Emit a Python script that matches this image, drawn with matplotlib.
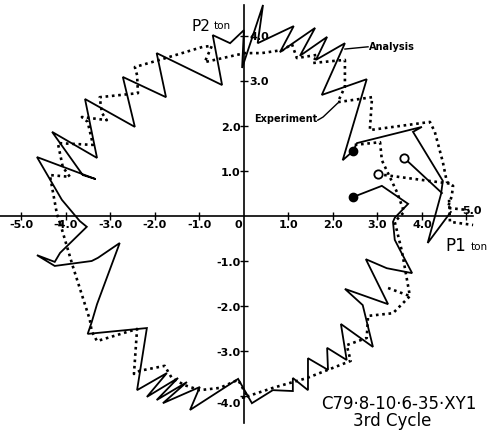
import matplotlib
matplotlib.use("Agg")
import matplotlib.pyplot as plt
from matplotlib import font_manager

# ---------------- data (P1, P2 in ton) ----------------
# Analysis (solid) - path starting at upper filled dot
ana1_p1 = [2.45, 2.54, 4.00, 3.80, 4.47, 4.43, 4.13, 4.65]
ana1_p2 = [1.44, 1.62, 1.98, 1.87, 0.78, 0.49, -0.60, 0.09]

# Analysis (solid) - short branch from upper open circle
ana3_p1 = [3.60, 4.45]
ana3_p2 = [1.29, 0.51]

# Analysis (solid) - main loop starting at lower filled dot
ana2_p1 = [2.45, 3.10, 3.69, 3.39, 3.35, 3.39, 3.51, 3.78, 3.21, 2.74, 3.24, 2.27,
           2.67, 2.90, 2.18, 2.31, 1.87, 1.89, 1.44, 1.44, 1.10, 1.10, 0.65, 0.18,
           -0.13, -1.21, -0.99, -1.82, -1.28, -1.96, -1.48, -2.18, -1.73, -2.40,
           -2.18, -3.51, -3.42, -3.30, -2.79, -3.28, -3.42, -4.25, -4.65, -4.25,
           -4.13, -3.53, -3.69, -4.09, -4.65, -3.33, -3.62, -4.31, -3.30, -3.57,
           -2.45, -2.72, -1.75, -1.96, -0.49, -0.70, -0.31, 0.00, -0.04, 0.43,
           0.31, 1.12, 0.81, 1.60, 1.26, 1.87, 1.62, 2.27, 1.75, 2.76, 2.22, 2.45]
ana2_p2 = [0.42, 0.67, 0.27, -0.04, -0.13, -0.53, -0.76, -1.27, -1.16, -0.96, -1.96, -1.62,
           -1.98, -2.91, -2.40, -3.20, -2.93, -3.42, -3.16, -3.87, -3.60, -3.89, -3.87, -4.16,
           -3.62, -4.31, -3.80, -4.16, -3.69, -4.09, -3.60, -4.02, -3.49, -3.87,
           -2.49, -2.62, -2.36, -1.96, -0.60, -0.93, -1.00, -1.11, -0.87, -1.02,
           -0.82, -0.24, -0.11, 0.36, 1.31, 0.82, 0.91, 1.87, 1.29, 2.60,
           1.98, 3.09, 2.64, 3.62, 2.91, 4.02, 3.84, 4.13, 3.29, 4.69,
           3.84, 4.22, 3.64, 4.18, 3.56, 3.98, 3.47, 3.84, 2.69, 3.04, 1.24, 1.44]

# Experiment (dotted) - upper part
exp1_p1 = [-4.13, -4.20, -4.36, -3.91, -4.07, -4.18, -3.39, -3.51, -3.64, -3.08, -3.19,
           -3.24, -2.38, -2.40, -2.45, -1.89, -0.92, -0.72, -0.88, 0.02, 0.40, 0.88,
           1.08, 1.19, 1.64, 1.55, 2.27, 2.27, 2.11, 2.88, 2.83, 4.18, 4.29, 4.47,
           4.56, 4.70, 4.67, 4.58, 5.06]
exp1_p2 = [-0.16, 0.04, 0.91, 0.87, 1.09, 1.62, 1.58, 2.09, 2.20, 2.13, 2.29,
           2.64, 2.73, 3.13, 3.31, 3.47, 3.76, 3.78, 3.42, 3.62, 3.62, 3.69,
           3.82, 3.51, 3.58, 3.40, 3.47, 2.87, 2.53, 2.64, 1.91, 2.09, 1.87, 1.20,
           0.76, 0.67, 0.44, 0.18, 0.13]

# Experiment (dotted) - lower part
exp2_p1 = [2.49, 3.06, 3.10, 3.44, 3.60, 3.39, 3.55, 3.73, 3.35, 2.79, 2.76, 2.31,
           2.40, 1.42, 0.65, -0.02, 0.07, -0.13, -0.54, -0.99, -1.33, -1.62, -1.78,
           -2.34, -2.47, -2.40, -3.30, -3.42, -3.46, -3.84, -4.13]
exp2_p2 = [1.58, 1.64, 1.24, 0.53, 0.09, -0.13, -0.78, -1.78, -2.16, -2.22, -2.71, -2.87,
           -3.22, -3.60, -3.82, -4.04, -4.00, -3.64, -3.82, -3.87, -3.76, -3.60, -3.33,
           -3.44, -3.51, -2.51, -2.78, -2.56, -2.31, -1.13, -0.16]

# Experiment (dotted) - short pieces
exp3_p1 = [3.01, 4.70]
exp3_p2 = [0.93, 0.71]
exp4_p1 = [3.24, 3.73]
exp4_p2 = [-1.60, -1.78]
exp5_p1 = [4.61, 4.63, 5.15]
exp5_p2 = [0.36, -0.13, -0.20]

# start markers
filled_p1 = [2.45, 2.45]
filled_p2 = [1.44, 0.42]
open_p1 = [3.60, 3.01]
open_p2 = [1.29, 0.93]

# ticks
x_ticks = [-5, -4, -3, -2, -1, 1, 2, 3, 4, 5]
x_labels = ["-5.0", "-4.0", "-3.0", "-2.0", "-1.0", "1.0", "2.0", "3.0", "4.0", "5.0"]
y_ticks = [-4, -3, -2, -1, 1, 2, 3, 4]
y_labels = ["-4.0", "-3.0", "-2.0", "-1.0", "1.0", "2.0", "3.0", "4.0"]

# ---------------- plot ----------------
def has_font(name):
    return any(f.name == name for f in font_manager.fontManager.ttflist)

narrow = "Liberation Sans Narrow" if has_font("Liberation Sans Narrow") else "DejaVu Sans"

fig = plt.figure(figsize=(4.9, 4.32), dpi=100)
ax = fig.add_axes([0, 0, 1, 1])
ax.set_xlim(-5.48, 5.53)
ax.set_ylim(-4.80, 4.80)

for s in ["top", "right"]:
    ax.spines[s].set_visible(False)
ax.spines["left"].set_position(("data", 0))
ax.spines["bottom"].set_position(("data", 0))
ax.spines["left"].set_bounds(-4.6, 4.7)
ax.spines["bottom"].set_bounds(-5.48, 5.15)
for s in ["left", "bottom"]:
    ax.spines[s].set_linewidth(1.2)
ax.set_xticks(x_ticks)
ax.set_yticks(y_ticks)
ax.tick_params(direction="inout", length=6, width=1.0, labelbottom=False, labelleft=False)

sol = dict(color="black", lw=1.3, solid_joinstyle="miter")
dot = dict(color="black", lw=1.9, linestyle=(0, (1, 1.4)))

ax.plot(ana2_p1, ana2_p2, **sol)
ax.plot(ana1_p1, ana1_p2, **sol)
ax.plot(ana3_p1, ana3_p2, **sol)

ax.plot(exp1_p1, exp1_p2, **dot)
ax.plot(exp2_p1, exp2_p2, **dot)
ax.plot(exp3_p1, exp3_p2, **dot)
ax.plot(exp4_p1, exp4_p2, **dot)
ax.plot(exp5_p1, exp5_p2, **dot)

ax.plot(filled_p1, filled_p2, "o", color="black", ms=6, zorder=5)
ax.plot(open_p1, open_p2, "o", mfc="white", mec="black", mew=1.3, ms=6, zorder=5)

# tick labels
tfont = dict(fontsize=8, fontweight="bold", family=narrow)
for v, lab in zip(x_ticks, x_labels):
    if v == 5:
        ax.text(v + 0.12, 0.1, lab, ha="center", va="center", **tfont)
    else:
        ax.text(v, -0.21, lab, ha="center", va="center", **tfont)
ax.text(-0.13, -0.21, "0", ha="center", va="center", **tfont)
for v, lab in zip(y_ticks, y_labels):
    if v >= 3:
        ax.text(0.12, v - 0.02, lab, ha="left", va="center", **tfont)
    elif v == -4:
        ax.text(-0.07, v - 0.18, lab, ha="right", va="center", **tfont)
    else:
        ax.text(-0.07, v - 0.05, lab, ha="right", va="center", **tfont)

# axis titles
ax.text(-1.17, 4.21, "P2", fontsize=11, ha="left", va="center")
ax.text(-0.68, 4.22, "ton", fontsize=7.5, ha="left", va="center")
ax.text(4.52, -0.67, "P1", fontsize=12, ha="left", va="center")
ax.text(5.10, -0.70, "ton", fontsize=7.5, ha="left", va="center")

# annotations
ax.plot([2.27, 2.79], [3.71, 3.76], color="black", lw=1.0)
ax.text(2.80, 3.76, "Analysis", fontsize=7, fontweight="bold", ha="left", va="center", family=narrow)
ax.plot([1.66, 1.78, 2.11], [2.13, 2.20, 2.51], color="black", lw=1.0)
ax.text(1.64, 2.15, "Experiment", fontsize=7, fontweight="bold", ha="right", va="center", family=narrow)

ax.text(3.49, -4.17, "C79·8-10·6-35·XY1", fontsize=12, ha="center", va="center", family=narrow)
ax.text(3.33, -4.56, "3rd Cycle", fontsize=12, ha="center", va="center", family=narrow)

fig.savefig("out.png", dpi=100)
